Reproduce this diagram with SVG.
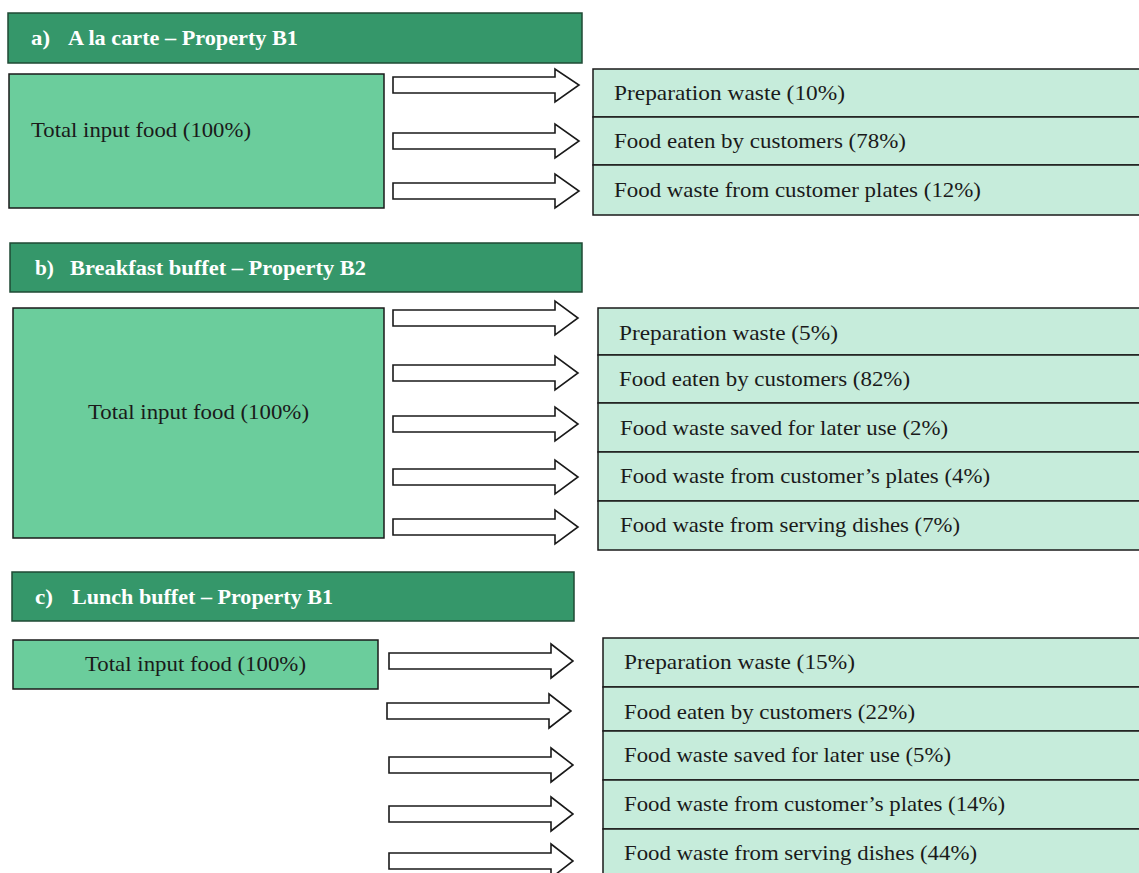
<svg xmlns="http://www.w3.org/2000/svg" width="1139" height="873" viewBox="0 0 1139 873">
  <defs>
    <style>
      .hdr { fill: #35976a; stroke: #1f4a35; stroke-width: 1.5; }
      .hdr-t { font-family: "Liberation Serif", serif; font-weight: bold; font-size: 21px; fill: #ffffff; }
      .in { fill: #6bcd9c; stroke: #1a1a1a; stroke-width: 1.5; }
      .out { fill: #c6ecdb; stroke: #1a1a1a; stroke-width: 1.5; }
      .t { font-family: "Liberation Serif", serif; font-size: 21px; fill: #1a1a1a; }
      .arr { fill: #ffffff; stroke: #1a1a1a; stroke-width: 1.6; stroke-linejoin: miter; }
    </style>
  </defs>
  <rect width="1139" height="873" fill="#ffffff"/>

  <!-- a) A la carte -->
  <g id="header-a">
    <rect class="hdr" x="8" y="13" width="574" height="50"/>
    <text class="hdr-t" x="31" y="45" textLength="19" lengthAdjust="spacingAndGlyphs">a)</text>
    <text class="hdr-t" x="68" y="45" textLength="230" lengthAdjust="spacingAndGlyphs">A la carte – Property B1</text>
  </g>
  <g id="input-a">
    <rect class="in" x="9" y="74" width="375" height="134"/>
    <text class="t" x="31" y="137" textLength="220" lengthAdjust="spacingAndGlyphs">Total input food (100%)</text>
  </g>
  <g id="out-a1">
    <rect class="out" x="593" y="69" width="560" height="48"/>
    <text class="t" x="614" y="100" textLength="231" lengthAdjust="spacingAndGlyphs">Preparation waste (10%)</text>
  </g>
  <g id="out-a2">
    <rect class="out" x="593" y="117" width="560" height="48"/>
    <text class="t" x="614" y="148" textLength="292" lengthAdjust="spacingAndGlyphs">Food eaten by customers (78%)</text>
  </g>
  <g id="out-a3">
    <rect class="out" x="593" y="165" width="560" height="50"/>
    <text class="t" x="614" y="197" textLength="367" lengthAdjust="spacingAndGlyphs">Food waste from customer plates (12%)</text>
  </g>

  <!-- b) Breakfast buffet -->
  <g id="header-b">
    <rect class="hdr" x="10" y="243" width="572" height="49"/>
    <text class="hdr-t" x="35" y="275" textLength="19" lengthAdjust="spacingAndGlyphs">b)</text>
    <text class="hdr-t" x="70" y="275" textLength="296" lengthAdjust="spacingAndGlyphs">Breakfast buffet – Property B2</text>
  </g>
  <g id="input-b">
    <rect class="in" x="13" y="308" width="371" height="230"/>
    <text class="t" x="88" y="419" textLength="221" lengthAdjust="spacingAndGlyphs">Total input food (100%)</text>
  </g>
  <g id="out-b1">
    <rect class="out" x="598" y="308" width="560" height="47"/>
    <text class="t" x="619" y="340" textLength="219" lengthAdjust="spacingAndGlyphs">Preparation waste (5%)</text>
  </g>
  <g id="out-b2">
    <rect class="out" x="598" y="355" width="560" height="48"/>
    <text class="t" x="619" y="386" textLength="291" lengthAdjust="spacingAndGlyphs">Food eaten by customers (82%)</text>
  </g>
  <g id="out-b3">
    <rect class="out" x="598" y="403" width="560" height="49"/>
    <text class="t" x="620" y="435" textLength="328" lengthAdjust="spacingAndGlyphs">Food waste saved for later use (2%)</text>
  </g>
  <g id="out-b4">
    <rect class="out" x="598" y="452" width="560" height="49"/>
    <text class="t" x="620" y="483" textLength="370" lengthAdjust="spacingAndGlyphs">Food waste from customer’s plates (4%)</text>
  </g>
  <g id="out-b5">
    <rect class="out" x="598" y="501" width="560" height="49"/>
    <text class="t" x="620" y="532" textLength="340" lengthAdjust="spacingAndGlyphs">Food waste from serving dishes (7%)</text>
  </g>

  <!-- c) Lunch buffet -->
  <g id="header-c">
    <rect class="hdr" x="12" y="572" width="562" height="49"/>
    <text class="hdr-t" x="35" y="604" textLength="18" lengthAdjust="spacingAndGlyphs">c)</text>
    <text class="hdr-t" x="72" y="604" textLength="261" lengthAdjust="spacingAndGlyphs">Lunch buffet – Property B1</text>
  </g>
  <g id="input-c">
    <rect class="in" x="13" y="640" width="365" height="49"/>
    <text class="t" x="85" y="671" textLength="221" lengthAdjust="spacingAndGlyphs">Total input food (100%)</text>
  </g>
  <g id="out-c1">
    <rect class="out" x="603" y="638" width="560" height="49"/>
    <text class="t" x="624" y="669" textLength="231" lengthAdjust="spacingAndGlyphs">Preparation waste (15%)</text>
  </g>
  <g id="out-c2">
    <rect class="out" x="603" y="687" width="560" height="44"/>
    <text class="t" x="624" y="719" textLength="291" lengthAdjust="spacingAndGlyphs">Food eaten by customers (22%)</text>
  </g>
  <g id="out-c3">
    <rect class="out" x="603" y="731" width="560" height="49"/>
    <text class="t" x="624" y="762" textLength="327" lengthAdjust="spacingAndGlyphs">Food waste saved for later use (5%)</text>
  </g>
  <g id="out-c4">
    <rect class="out" x="603" y="780" width="560" height="49"/>
    <text class="t" x="624" y="811" textLength="381" lengthAdjust="spacingAndGlyphs">Food waste from customer’s plates (14%)</text>
  </g>
  <g id="out-c5">
    <rect class="out" x="603" y="829" width="560" height="60"/>
    <text class="t" x="624" y="860" textLength="353" lengthAdjust="spacingAndGlyphs">Food waste from serving dishes (44%)</text>
  </g>

  <!-- block arrows from input to outputs -->
  <g id="connectors">
    <polygon class="arr" points="393,77 555,77 555,69 579,85 555,102 555,93 393,93"/>
    <polygon class="arr" points="393,133 555,133 555,124 579,141 555,158 555,149 393,149"/>
    <polygon class="arr" points="393,183 555,183 555,174 579,191 555,208 555,199 393,199"/>

    <polygon class="arr" points="393,310 555,310 555,301 578,318 555,335 555,326 393,326"/>
    <polygon class="arr" points="393,365 555,365 555,356 578,373 555,390 555,381 393,381"/>
    <polygon class="arr" points="393,416 555,416 555,407 578,424 555,441 555,432 393,432"/>
    <polygon class="arr" points="393,469 555,469 555,460 578,477 555,494 555,485 393,485"/>
    <polygon class="arr" points="393,519 555,519 555,510 578,527 555,544 555,535 393,535"/>

    <polygon class="arr" points="389,653 551,653 551,644 573,661 551,678 551,669 389,669"/>
    <polygon class="arr" points="387,703 549,703 549,694 571,711 549,728 549,719 387,719"/>
    <polygon class="arr" points="389,757 551,757 551,748 573,765 551,782 551,773 389,773"/>
    <polygon class="arr" points="389,806 551,806 551,797 573,814 551,831 551,822 389,822"/>
    <polygon class="arr" points="389,853 551,853 551,844 573,861 551,878 551,869 389,869"/>
  </g>
</svg>
